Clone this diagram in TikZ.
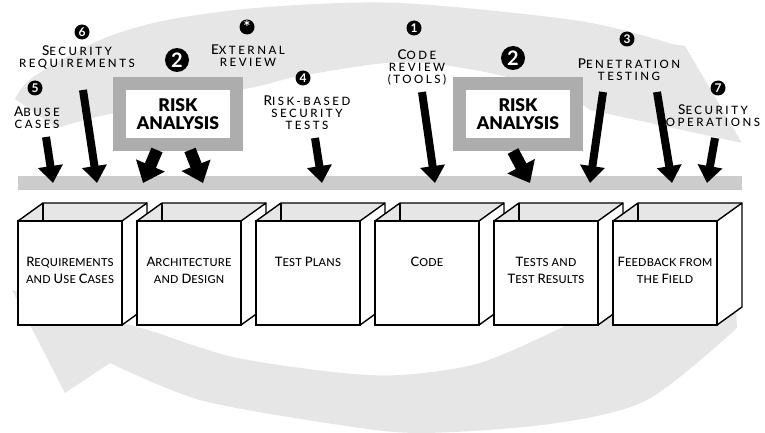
\documentclass[tikz,border=0pt]{standalone}
\usepackage{fontspec}
\setmainfont{Lato}
\newfontfamily\lblfont[LetterSpace=22]{Lato Medium}
\newfontfamily\boxfont[LetterSpace=2]{Lato Medium}
\newfontface\riskfont{Lato Black}
\usetikzlibrary{arrows.meta,positioning}

\definecolor{bandgray}{HTML}{E6E6E6}
\definecolor{bargray}{HTML}{CCCCCC}
\definecolor{framegray}{HTML}{ADADAD}

% fake small caps: big initial, small rest
\newcommand\bigc{\fontsize{13.5}{14.5}\selectfont}
\newcommand\smallc{\fontsize{11.5}{14.5}\selectfont}
\newcommand\capw[2]{{\bigc #1}{\smallc #2}}
\newcommand\smw[1]{{\smallc #1}}
% box labels a bit smaller
\newcommand\bbigc{\fontsize{13}{17}\selectfont}
\newcommand\bsmallc{\fontsize{11}{17}\selectfont}
\newcommand\bcapw[2]{{\bbigc #1}{\bsmallc #2}}
\newcommand\bsmw[1]{{\bsmallc #1}}

\tikzset{
  band/.style={fill=bandgray},
  boxline/.style={line width=1.4pt, line join=round},
  front/.style={draw, line width=1.4pt, fill=white, minimum width=104pt, minimum height=104pt, inner sep=0pt},
  boxtext/.style={font=\boxfont\fontsize{11}{17}\selectfont, align=center, anchor=north, inner sep=0pt},
  lbl/.style={font=\lblfont, align=center, inner sep=0pt},
  num/.style={circle, fill=black, text=white, inner sep=0pt, minimum size=15pt, font=\fontsize{12}{12}\selectfont\bfseries},
  bignum/.style={num, minimum size=24pt, font=\fontsize{20}{20}\selectfont\bfseries},
  riskbox/.style={draw=framegray, line width=13pt, fill=white, minimum width=117pt, minimum height=61pt, inner sep=0pt, align=center, font=\riskfont\fontsize{17.5}{17.5}\selectfont},
  bar/.style={fill=bargray, minimum width=724pt, minimum height=14pt, inner sep=0pt},
  blk/.style={line width=8pt, -{Triangle[width=24pt,length=17pt]}},
  fatblk/.style={line width=12pt, -{Triangle[width=30pt,length=19pt]}}
}

% one open phase box, #1 name, #2 left x, #3 text
\newcommand\phasebox[3]{%
  \begin{scope}[shift={(#2,0)}]
    \fill[bandgray] (0,221) -- (25,203) -- (129,203) -- (104,221) -- cycle;
    \draw[boxline] (25,203) -- (25,221);
    \filldraw[boxline, fill=white] (104,221) -- (129,203) -- (129,307) -- (104,325) -- cycle;
    \draw[boxline] (0,221) -- (25,203) -- (129,203);
    \node[front] (#1) at (52,273) {};
    \node[boxtext] (#1-t) at (52,257) {#3};
  \end{scope}}

\begin{document}
\begin{tikzpicture}[x=1pt, y=-1pt]
\useasboundingbox (0,0) rectangle (765,433);

% big loop in the back
\fill[band] (15,99) -- plot[smooth] coordinates {(15,99) (33,77) (100,40) (167,20) (267,7) (400,3) (580,21) (672,44)}
  -- (685,46) -- (742,143) -- (590,110)
  -- plot[smooth] coordinates {(565,92) (480,71) (400,62) (300,76) (250,88) (110,114) (57,128)} -- cycle;
\fill[band] (12,290) -- (65,393) -- (110,363)
  -- plot[smooth] coordinates {(110,363) (200,400) (333,424) (420,433) (550,424) (647,400) (737,328)}
  -- (736,309) -- (600,300)
  -- plot[smooth] coordinates {(563,327) (480,363) (400,375) (333,372) (233,357) (158,333)} -- cycle;

% phases
\phasebox{req}{18}{\bcapw{R}{EQUIREMENTS}\\\bsmw{AND} \bcapw{U}{SE} \bcapw{C}{ASES}}
\phasebox{arch}{137}{\bcapw{A}{RCHITECTURE}\\\bsmw{AND} \bcapw{D}{ESIGN}}
\phasebox{plans}{256}{\bcapw{T}{EST} \bcapw{P}{LANS}}
\phasebox{code}{375}{\bcapw{C}{ODE}}
\phasebox{tests}{494}{\bcapw{T}{ESTS} \bsmw{AND}\\\bcapw{T}{EST} \bcapw{R}{ESULTS}}
\phasebox{field}{613}{\bcapw{F}{EEDBACK} \bsmw{FROM}\\\bsmw{THE} \bcapw{F}{IELD}}

\node[bar] (bar) at (380,183) {};

% risk analysis
\node[riskbox] (ra1) at (178,114) {RISK\\ANALYSIS};
\node[riskbox] (ra2) at (518,114) {RISK\\ANALYSIS};

% touch points
\node[num] (n6) at (82,32) {6};
\node[lbl] (secreq) at (77,57) {\capw{S}{ECURITY}\\\smw{REQUIREMENTS}};
\node[num] (n5) at (35,88) {5};
\node[lbl] (abuse) at (37,118) {\capw{A}{BUSE}\\\smw{CASES}};
\node[bignum] (n2a) at (177,60) {2};
\node[num] (nx) at (247,27) {\raisebox{-4pt}{\fontsize{17}{17}\selectfont *}};
\node[lbl] (ext) at (248,56) {\capw{E}{XTERNAL}\\\smw{REVIEW}};
\node[num] (n4) at (303,78) {4};
\node[lbl] (rbst) at (307,113) {\capw{R}{ISK-BASED}\\\smw{SECURITY}\\\smw{TESTS}};
\node[num] (n1) at (414,28) {1};
\node[lbl] (crev) at (417,67) {\capw{C}{ODE}\\\smw{REVIEW}\\\smw{(TOOLS)}};
\node[bignum] (n2b) at (513,58) {2};
\node[num] (n3) at (627,39) {3};
\node[lbl] (pen) at (629,70) {\capw{P}{ENETRATION}\\\smw{TESTING}};
\node[num] (n7) at (718,88) {7};
\node[lbl] (secops) at (713,116) {\capw{S}{ECURITY}\\\smw{OPERATIONS}};

% arrow ends
\coordinate (abuse-s) at (46,137);   \coordinate (abuse-e) at (53,183);
\coordinate (secreq-s) at (83,90);   \coordinate (secreq-e) at (97,183);
\coordinate (ra1l-s) at (157,150);   \coordinate (ra1l-e) at (143,183);
\coordinate (ra1r-s) at (190,150);   \coordinate (ra1r-e) at (203,183);
\coordinate (rbst-s) at (315,138);   \coordinate (rbst-e) at (322,183);
\coordinate (crev-s) at (422,92);    \coordinate (crev-e) at (435,183);
\coordinate (ra2-s) at (513,151);    \coordinate (ra2-e) at (530,183);
\coordinate (penl-s) at (603,92);    \coordinate (penl-e) at (590,183);
\coordinate (penr-s) at (657,92);    \coordinate (penr-e) at (672,183);
\coordinate (secops-s) at (715,138); \coordinate (secops-e) at (707,183);

\draw[blk] (abuse-s) -- (abuse-e);
\draw[blk] (secreq-s) -- (secreq-e);
\draw[fatblk] (ra1l-s) -- (ra1l-e);
\draw[fatblk] (ra1r-s) -- (ra1r-e);
\draw[blk] (rbst-s) -- (rbst-e);
\draw[blk] (crev-s) -- (crev-e);
\draw[fatblk] (ra2-s) -- (ra2-e);
\draw[blk] (penl-s) -- (penl-e);
\draw[blk] (penr-s) -- (penr-e);
\draw[blk] (secops-s) -- (secops-e);
\end{tikzpicture}
\end{document}
